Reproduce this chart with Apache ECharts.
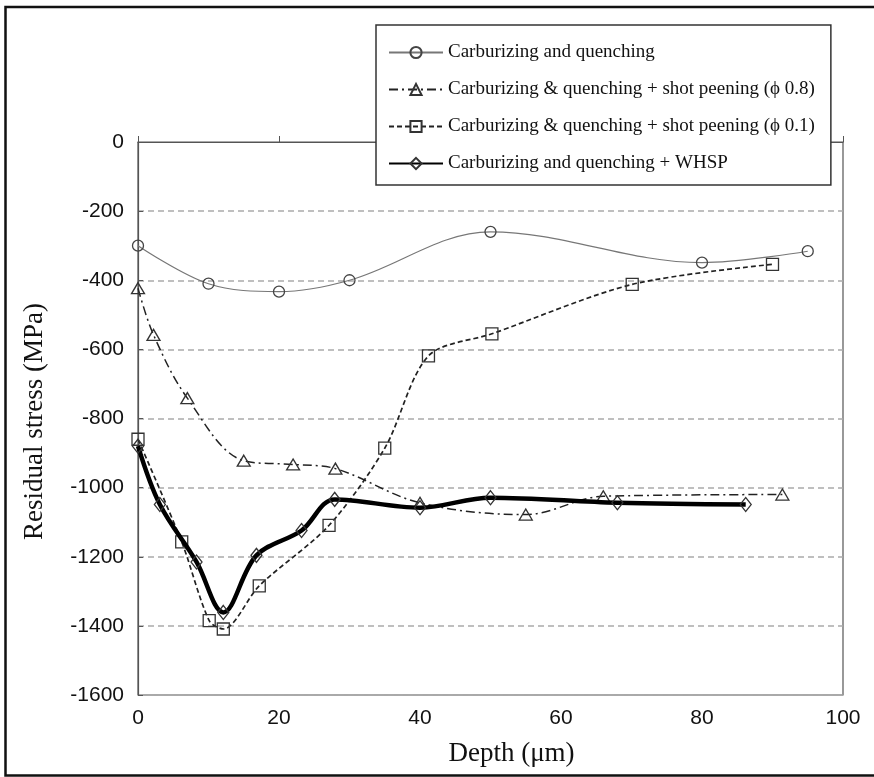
<!DOCTYPE html>
<html><head><meta charset="utf-8">
<script src="https://cdn.jsdelivr.net/npm/echarts@6/dist/echarts.min.js"></script>
<style>html,body{margin:0;padding:0;background:#fff}#c{width:874px;height:777px}</style>
</head><body><div id="c"></div>
<script>
const seriesNames = [
  'Carburizing and quenching',
  'Carburizing & quenching + shot peening (\u03d5 0.8)',
  'Carburizing & quenching + shot peening (\u03d5 0.1)',
  'Carburizing and quenching + WHSP'
];
const cqX = [0, 10, 20, 30, 50, 80, 95];
const cqY = [-300, -410, -433, -400, -260, -349, -316];
const sp08X = [0, 2.2, 7, 15, 22, 28, 40, 55, 66, 91.4];
const sp08Y = [-423, -558, -741, -922, -933, -945, -1044, -1078, -1025, -1020];
const sp01X = [0, 6.2, 10.1, 12.1, 17.2, 27.1, 35, 41.2, 50.2, 70.1, 90];
const sp01Y = [-860, -1157, -1385, -1409, -1284, -1109, -886, -619, -555, -412, -354];
const whspX = [0, 3.1, 8.3, 12.1, 16.8, 23.2, 27.9, 40, 50, 68, 86.2];
const whspY = [-880, -1049, -1215, -1361, -1196, -1124, -1034, -1058, -1029, -1044, -1049];
const xTicks = [0, 20, 40, 60, 80, 100];
const yTicks = [0, -200, -400, -600, -800, -1000, -1200, -1400, -1600];

const pairs = (xs, ys) => xs.map((x, i) => [x, ys[i]]);
const hollow = c => ({ color: 'rgba(255,255,255,0)', borderColor: c, borderWidth: 1.3 });

const chart = echarts.init(document.getElementById('c'), null, { renderer: 'canvas' });
chart.setOption({
  animation: false,
  backgroundColor: '#fff',
  graphic: [{
    type: 'polyline', shape: { points: [[874, 7], [5.5, 7], [5.5, 775.5], [874, 775.5]] },
    style: { fill: 'none', stroke: '#111', lineWidth: 2.5 }, silent: true, z: 0
  }],
  grid: { left: 138, right: 31, top: 142, bottom: 82, show: true, borderColor: '#555', borderWidth: 1.2, backgroundColor: 'rgba(0,0,0,0)' },
  legend: {
    orient: 'vertical', left: 376, top: 25,
    backgroundColor: '#fff', borderColor: '#333', borderWidth: 1.5,
    padding: [18, 16, 12, 12], itemGap: 18, itemWidth: 54, itemHeight: 14,
    textStyle: { fontFamily: 'Liberation Serif', fontSize: 19, color: '#111' },
    data: seriesNames, z: 10
  },
  xAxis: {
    type: 'value', min: 0, max: 100, interval: 20,
    name: 'Depth (\u03bcm)', nameLocation: 'middle', nameGap: 45,
    nameTextStyle: { fontFamily: 'Liberation Serif', fontSize: 27, color: '#111', padding: [0, 0, 0, 42] },
    axisLine: { show: true, lineStyle: { color: '#555', width: 1.2 } },
    axisTick: { show: true, inside: true, length: 6, lineStyle: { color: '#555' } },
    axisLabel: { fontFamily: 'Liberation Sans', fontSize: 21, color: '#111', margin: 13,
      formatter: v => xTicks.includes(v) ? String(v) : '' },
    splitLine: { show: false }
  },
  yAxis: {
    type: 'value', min: -1600, max: 0, interval: 200,
    name: 'Residual stress (MPa)', nameLocation: 'middle', nameGap: 90,
    nameTextStyle: { fontFamily: 'Liberation Serif', fontSize: 27, color: '#111', padding: [0, 6, 0, 0] },
    axisLine: { show: true, lineStyle: { color: '#555', width: 1.2 } },
    axisTick: { show: true, inside: true, length: 5, lineStyle: { color: '#555' } },
    axisLabel: { fontFamily: 'Liberation Sans', fontSize: 21, color: '#111', margin: 14,
      formatter: v => yTicks.includes(v) ? String(v) : '' },
    splitLine: { show: true, lineStyle: { color: '#aaa', width: 1.5, type: [6, 4] } }
  },
  series: [
    { name: seriesNames[0], type: 'line', data: pairs(cqX, cqY), smooth: 0.35,
      symbol: 'circle', symbolSize: 11, itemStyle: hollow('#444'),
      lineStyle: { color: '#777', width: 1.2 }, z: 3 },
    { name: seriesNames[1], type: 'line', data: pairs(sp08X, sp08Y), smooth: 0.35,
      symbol: 'triangle', symbolSize: [13, 11], itemStyle: hollow('#333'),
      lineStyle: { color: '#222', width: 1.5, type: [9, 4, 2, 4] }, z: 3 },
    { name: seriesNames[2], type: 'line', data: pairs(sp01X, sp01Y), smooth: 0.3,
      symbol: 'rect', symbolSize: 12, itemStyle: hollow('#333'),
      lineStyle: { color: '#222', width: 1.7, type: [5, 3] }, z: 3 },
    { name: seriesNames[3], type: 'line', data: pairs(whspX, whspY), smooth: 0.35,
      symbol: 'diamond', symbolSize: [11, 14], itemStyle: hollow('#333'),
      lineStyle: { color: '#000', width: 4.5 }, z: 4 }
  ]
});
</script></body></html>
